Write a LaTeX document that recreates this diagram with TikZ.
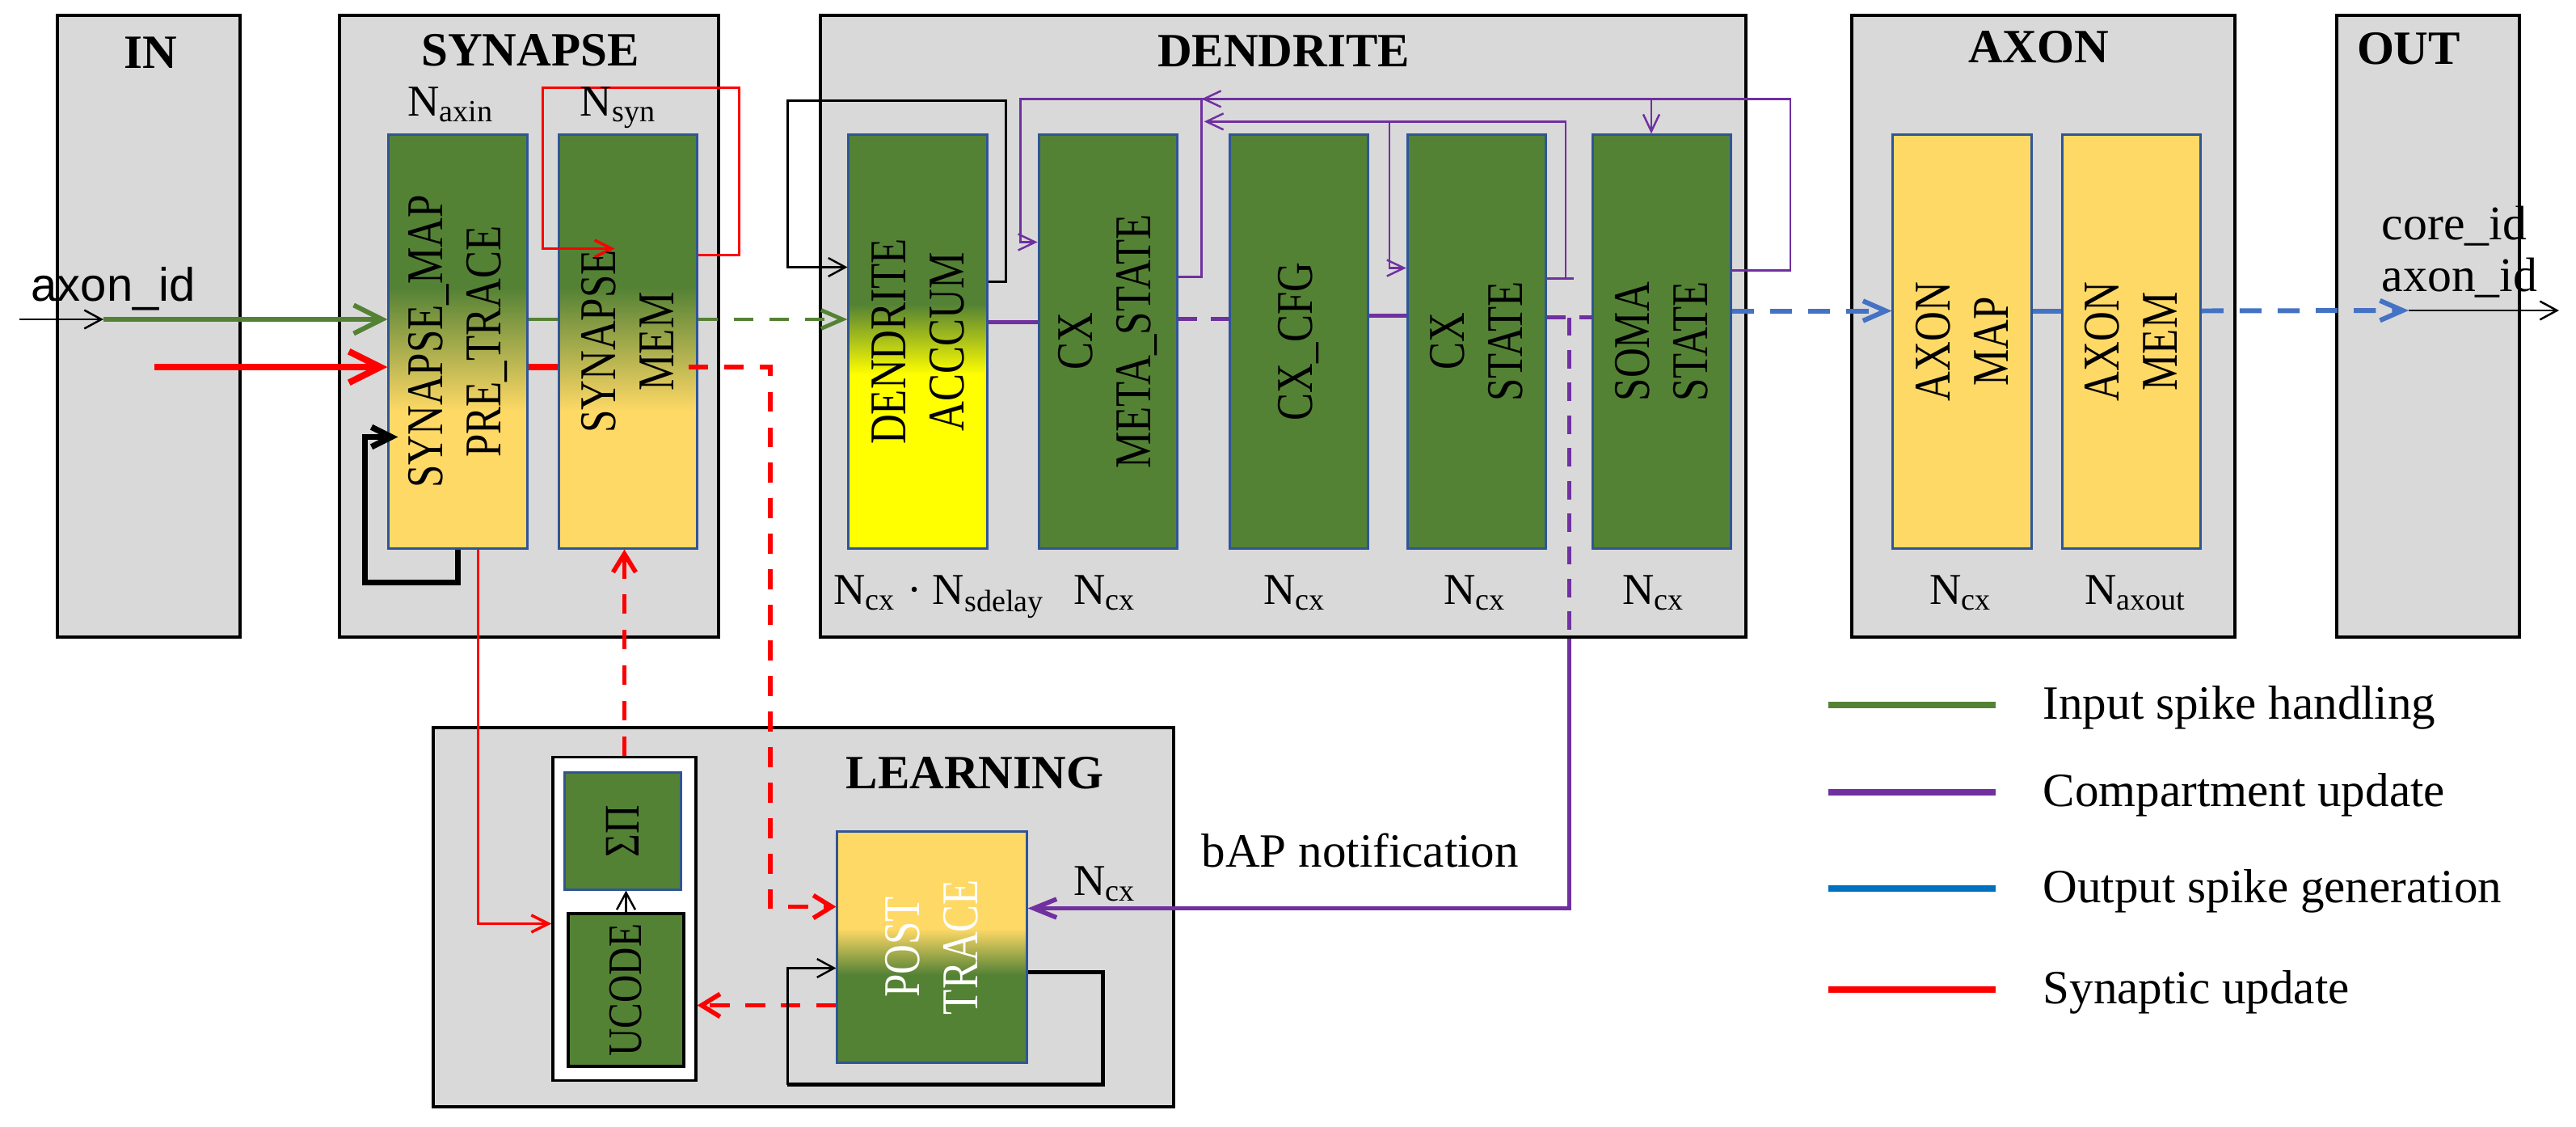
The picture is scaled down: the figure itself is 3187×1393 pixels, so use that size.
\documentclass[tikz,border=0pt]{standalone}
\usepackage{fontspec}
\setmainfont{Liberation Serif}
\newfontfamily\sansid{Liberation Sans}
\usetikzlibrary{arrows.meta,positioning,calc}

\definecolor{boxgray}{RGB}{217,217,217}
\definecolor{cellblue}{RGB}{47,85,151}
\definecolor{cellgreen}{RGB}{84,130,53}
\definecolor{cellyellow}{RGB}{255,217,102}
\definecolor{accyellow}{RGB}{255,255,0}
\definecolor{cxpurple}{RGB}{112,48,160}
\definecolor{spkblue}{RGB}{68,114,196}
\definecolor{legblue}{RGB}{0,112,192}
\definecolor{synred}{RGB}{255,0,0}

\pgfdeclareverticalshading{synshade}{100bp}{color(0bp)=(cellyellow); color(41.5bp)=(cellyellow); color(56.5bp)=(cellgreen); color(100bp)=(cellgreen)}
\pgfdeclareverticalshading{accshade}{100bp}{color(0bp)=(accyellow); color(46bp)=(accyellow); color(54.5bp)=(cellgreen); color(100bp)=(cellgreen)}
\pgfdeclareverticalshading{postshade}{100bp}{color(0bp)=(cellgreen); color(44bp)=(cellgreen); color(54bp)=(cellyellow); color(100bp)=(cellyellow)}

\tikzset{
  grp/.style={draw=black, fill=boxgray, line width=1.1pt, inner sep=0pt, minimum height=7.69cm},
  grptitle/.style={inner sep=0pt, font=\fontsize{16.8}{20}\selectfont\bfseries},
  cell/.style={draw=cellblue, line width=0.85pt, inner sep=0pt, minimum width=1.71cm, minimum height=5.11cm},
  greencell/.style={cell, fill=cellgreen},
  yellowcell/.style={cell, fill=cellyellow},
  celltext/.style={rotate=90, yscale=1.25, align=center, inner sep=0pt, font=\fontsize{14.5}{16.4}\selectfont},
  nlabel/.style={anchor=base, inner sep=0pt, font=\fontsize{15.5}{18}\selectfont},
  plaintext/.style={anchor=base west, inner sep=0pt, font=\fontsize{16.8}{20}\selectfont},
  legtext/.style={anchor=base west, inner sep=0pt, font=\fontsize{16.8}{20}\selectfont},
  thinarrow/.style={draw=black, line width=0.7pt, -{Straight Barb[length=6pt,width=6.5pt]}},
  blkloop/.style={draw=black, line width=2.1pt, -{Straight Barb[length=7pt,width=7pt]}},
  blkpost/.style={draw=black, line width=1.3pt},
  greenin/.style={draw=cellgreen, line width=1.7pt, -{Straight Barb[length=10pt,width=10pt]}},
  greenline/.style={draw=cellgreen, line width=1.4pt},
  greendash/.style={greenline, dash pattern=on 7pt off 5.5pt, -{Straight Barb[length=7.5pt,width=6.5pt]}},
  redin/.style={draw=synred, line width=2.3pt, -{Straight Barb[length=11pt,width=11pt]}},
  redline/.style={draw=synred, line width=2.3pt},
  reddash/.style={draw=synred, line width=1.6pt, dash pattern=on 7pt off 5.5pt, -{Straight Barb[length=6.5pt,width=8pt]}},
  redthin/.style={draw=synred, line width=1pt, -{Straight Barb[length=6pt,width=6pt]}},
  purpline/.style={draw=cxpurple, line width=1.6pt},
  purpdash/.style={purpline, dash pattern=on 6.5pt off 5pt},
  purpbap/.style={purpline, -{Straight Barb[length=8pt,width=6.5pt]}},
  purpthin/.style={draw=cxpurple, line width=0.7pt},
  purpthinarrow/.style={purpthin, -{Straight Barb[length=6pt,width=5.7pt]}},
  blueline/.style={draw=spkblue, line width=1.7pt},
  bluedash/.style={blueline, dash pattern=on 7.7pt off 5.7pt, -{Straight Barb[length=8pt,width=7pt]}}
}

\begin{document}
\begin{tikzpicture}[x=0.01cm, y=-0.01cm]
  \useasboundingbox (0,0) rectangle (3187,1393);

  % stage boxes
  \node[grp, minimum width=2.26cm] (in) at (184,403.5) {};
  \node[grp, minimum width=4.69cm] (syn) at (654.5,403.5) {};
  \node[grp, minimum width=11.45cm] (den) at (1587.5,403.5) {};
  \node[grp, minimum width=4.74cm] (axo) at (2528,403.5) {};
  \node[grp, minimum width=2.26cm] (out) at (3004,403.5) {};
  \node[grp, minimum width=9.16cm, minimum height=4.69cm] (lrn) at (994,1134.5) {};

  \node[grptitle] (intitle) at (186,65) {IN};
  \node[grptitle] (syntitle) at (656,62) {SYNAPSE};
  \node[grptitle] (dentitle) at (1588,63) {DENDRITE};
  \node[grptitle] (axotitle) at (2522,58) {AXON};
  \node[grptitle] (outtitle) at (2980,60) {OUT};
  \node[grptitle] (lrntitle) at (1206,956) {LEARNING};

  % memories
  \node[cell, shade, shading=synshade] (map) at (566.5,422.5) {};
  \node[cell, shade, shading=synshade, right=0.36cm of map] (mem) {};
  \node[cell, shade, shading=accshade] (acc) at (1135.5,422.5) {};
  \node[greencell, right=0.61cm of acc] (meta) {};
  \node[greencell, right=0.62cm of meta] (cfg) {};
  \node[greencell, right=0.46cm of cfg] (cxs) {};
  \node[greencell, right=0.55cm of cxs] (soma) {};
  \node[yellowcell] (amap) at (2427.5,422.5) {};
  \node[yellowcell, right=0.35cm of amap] (amem) {};

  % learning engine
  \node[draw=black, fill=white, line width=0.9pt, minimum width=1.77cm, minimum height=3.99cm] (wbox) at (772.5,1136.5) {};
  \node[draw=cellblue, fill=cellgreen, line width=0.85pt, minimum width=1.43cm, minimum height=1.44cm] (sp) at (770.5,1028) {};
  \node[draw=black, fill=cellgreen, line width=1.2pt, minimum width=1.43cm, minimum height=1.89cm] (uc) at (774.5,1224.5) {};
  \node[cell, shade, shading=postshade, minimum width=2.34cm, minimum height=2.85cm] (post) at (1153,1171.5) {};

  % input spike handling
  \coordinate (ain) at (24,395);
  \coordinate (aink) at (128,395);
  \draw[thinarrow] (ain) -- (aink);
  \draw[greenin] (aink) -- (aink -| map.west);
  \draw[greenline] (aink -| map.east) -- (aink -| mem.west);
  \draw[greendash] (aink -| mem.east) -- (aink -| acc.west);

  % synaptic update
  \coordinate (rin) at (191,454);
  \coordinate (rdrop) at (953,454);
  \coordinate (pout) at ($(post.west)+(0,72)$);
  \draw[redin] (rin) -- (rin -| map.west);
  \draw[redline] (rin -| map.east) -- (rin -| mem.west);
  \draw[reddash] ($(rin -| mem.east)+(-12,0)$) -- (rdrop) |- ($(post.west)+(0,-50)$);
  \draw[redthin] ($(map.south)+(25,0)$) |- ($(wbox.west)+(0,6)$);
  \draw[redthin] ($(mem.east)+(0,-107)$) -- ++(51,0) |- ($(mem.north west)+(-18,-57)$)
    |- ($(mem.west)+(71,-115)$);
  \draw[reddash] (wbox.north) -- (wbox.north |- mem.south);
  \draw[reddash] (pout) -- (pout -| wbox.east);

  % local loops
  \draw[blkloop] (map.south) -- ++(0,41) -| ($(map.west)+(-28,118)$) -- ($(map.west)+(13,118)$);
  \draw[thinarrow] ($(acc.east)+(0,-74)$) -| ($(acc.north east)+(22,-41)$)
    -| ($(acc.west)+(-74,-92)$) -- ($(acc.west)+(0,-92)$);
  \draw[thinarrow] (uc.north) -- (uc.north |- sp.south);
  \draw[blkpost] ($(post.east)+(0,31)$) -- ++(93,0) |- ($(post.west)+(-60,170)$);
  \draw[thinarrow] ($(post.west)+(-60,170)$) |- ($(post.west)+(0,26)$);

  % compartment update
  \coordinate (bapc) at ($(cxs.east)!.5!(soma.west)+(0,-30)$);
  \draw[purpline] ($(acc.east)+(0,-24)$) -- ($(meta.west)+(0,-24)$);
  \draw[purpdash] ($(meta.east)+(0,-28)$) -- ($(cfg.west)+(0,-28)$);
  \draw[purpline] ($(cfg.east)+(0,-32)$) -- ($(cxs.west)+(0,-32)$);
  \draw[purpdash] ($(cxs.east)+(0,-30)$) -- ($(soma.west)+(0,-30)$);
  \draw[purpdash] (bapc) -- (bapc |- den.south);
  \draw[purpbap] (bapc |- den.south) |- ($(post.east)+(0,-48)$);

  \draw[purpthinarrow] ($(soma.east)+(0,-88)$) -- ++(72,0) |- ($(meta.north west)+(-21,-43)$)
    |- ($(meta.west)+(0,-123)$);
  \draw[purpthinarrow] ($(meta.north east)+(60,-43)$) -- ($(meta.north east)+(29,-43)$);
  \draw[purpthin] ($(meta.east)+(0,-80)$) -| ($(meta.north east)+(29,-43)$);
  \draw[purpthin] ($(cxs.east)+(0,-78)$) -- ++(33,0);
  \draw[purpthinarrow] ($(cxs.east)+(23,-78)$) |- ($(meta.north east)+(32,-15)$);
  \draw[purpthinarrow] ($(cxs.north west)+(-21,-15)$) |- ($(cxs.west)+(0,-91)$);
  \draw[purpthinarrow] ($(soma.north)+(-13,-43)$) -- ($(soma.north)+(-13,0)$);

  % output spike generation
  \coordinate (aout) at (2980,384);
  \draw[bluedash] ($(soma.east)+(0,-38)$) -- ($(amap.west)+(0,-38)$);
  \draw[blueline] ($(amap.east)+(0,-38)$) -- ($(amem.west)+(0,-38)$);
  \draw[bluedash] ($(amem.east)+(0,-38)$) -- (aout);
  \draw[thinarrow] (aout) -- ++(186,0);

  % memory names
  \node[celltext] (mapt) at (map) {SYNAPSE\_MAP\\PRE\_TRACE};
  \node[celltext] (memt) at (mem) {SYNAPSE\\MEM};
  \node[celltext] (acct) at (acc) {DENDRITE\\ACCCUM};
  \node[celltext] (metat) at (meta) {CX\\META\_STATE};
  \node[celltext] (cfgt) at (cfg) {CX\_CFG};
  \node[celltext] (cxst) at (cxs) {CX\\STATE};
  \node[celltext] (somat) at (soma) {SOMA\\STATE};
  \node[celltext] (amapt) at (amap) {AXON\\MAP};
  \node[celltext] (amemt) at (amem) {AXON\\MEM};
  \node[celltext, font=\fontsize{14}{17}\selectfont] (spt) at (sp) {ΣΠ};
  \node[celltext, font=\fontsize{13.5}{17}\selectfont] (uct) at (uc) {UCODE};
  \node[celltext, text=white] (postt) at (post) {POST\\TRACE};

  % sizes
  \node[nlabel] (naxin) at (558,143) {N\textsubscript{axin}};
  \node[nlabel] (nsyn) at (765,143) {N\textsubscript{syn}};
  \node[nlabel] (nacc) at (1162,747) {N\textsubscript{cx} \textperiodcentered\ N\textsubscript{sdelay}};
  \node[nlabel] (nmeta) at (1367,747) {N\textsubscript{cx}};
  \node[nlabel] (ncfg) at (1602,747) {N\textsubscript{cx}};
  \node[nlabel] (ncxs) at (1825,747) {N\textsubscript{cx}};
  \node[nlabel] (nsoma) at (2046,747) {N\textsubscript{cx}};
  \node[nlabel] (namap) at (2426,747) {N\textsubscript{cx}};
  \node[nlabel] (namem) at (2642,747) {N\textsubscript{axout}};
  \node[nlabel] (npost) at (1367,1107) {N\textsubscript{cx}};

  % io names
  \node[plaintext, font=\sansid\fontsize{16.5}{20}\selectfont] (inid) at (38,372) {axon\_id};
  \node[plaintext, font=\fontsize{17}{20}\selectfont] (coreid) at (2946,296) {core\_id};
  \node[plaintext, font=\fontsize{17}{20}\selectfont] (outid) at (2946,360) {axon\_id};
  \node[plaintext] (bap) at (1486,1072) {bAP notification};

  % legend
  \foreach \col/\txt/\y [count=\i] in {cellgreen/Input spike handling/872,
      cxpurple/Compartment update/980, legblue/Output spike generation/1099,
      synred/Synaptic update/1224}{
    \node[legtext] (leg\i) at (2527,\y+17) {\txt};
    \draw[draw=\col, line width=2.3pt] ($(leg\i.base west)+(-265,-17)$) -- ++(207,0);
  }
\end{tikzpicture}
\end{document}
